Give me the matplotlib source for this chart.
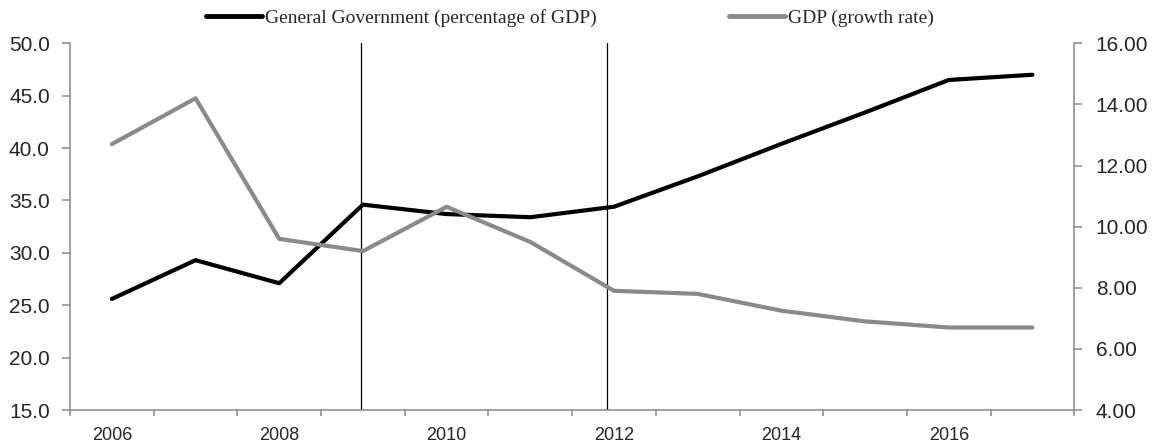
import numpy as np
import matplotlib
matplotlib.use('Agg')
import matplotlib.pyplot as plt
from matplotlib.lines import Line2D

plt.rcParams['font.family'] = ['Liberation Sans', 'DejaVu Sans']

years = [2006, 2007, 2008, 2009, 2010, 2011, 2012, 2013, 2014, 2015, 2016, 2017]
gov_pct_gdp = [25.6, 29.3, 27.1, 34.6, 33.7, 33.4, 34.4, 37.3, 40.4, 43.4, 46.5, 47.0]
gdp_growth = [12.7, 14.2, 9.6, 9.2, 10.65, 9.5, 7.9, 7.8, 7.25, 6.9, 6.7, 6.7]
label_years = [2006, 2008, 2010, 2012, 2014, 2016]
marker_years = [2008.98, 2011.92]  # the two vertical reference lines

spine_col = '#888888'
text_col = '#262626'

fig = plt.figure(figsize=(11.53, 4.47), dpi=100)
ax = fig.add_axes([70 / 1153, 1 - 410 / 447, (1074.3 - 70) / 1153, (410 - 43.3) / 447])
ax2 = ax.twinx()

x = np.arange(len(years))
ax.plot(x, gov_pct_gdp, color='black', lw=3, solid_capstyle='round', zorder=3)
ax2.plot(x, gdp_growth, color='#8a8a8a', lw=3, solid_capstyle='round', zorder=3)

for my in marker_years:
    ax.axvline(my - years[0], color='black', lw=0.9, zorder=2)

ax.set_xlim(-0.5, len(years) - 0.5)
ax.set_ylim(15, 50)
ax2.set_ylim(4, 16)
ax.set_yticks(np.arange(15, 50.1, 5))
ax.set_yticklabels([f'{v:.1f}' for v in np.arange(15, 50.1, 5)])
ax2.set_yticks(np.arange(4, 16.1, 2))
ax2.set_yticklabels([f'{v:.2f}' for v in np.arange(4, 16.1, 2)])

# tick marks sit between categories, labels on every second year
ax.set_xticks(np.arange(-0.5, len(years), 1))
ax.set_xticklabels([])
ax.set_xticks([y - years[0] for y in label_years], minor=True)
ax.set_xticklabels([str(y) for y in label_years], minor=True)
ax.tick_params(axis='x', which='major', length=4, width=1.1, color=spine_col, direction='out')
ax.tick_params(axis='x', which='minor', length=0, pad=12, labelsize=13, labelcolor=text_col)

ax.tick_params(axis='y', length=6, width=1.1, color=spine_col, pad=8.5, labelsize=15, labelcolor=text_col)
ax2.tick_params(axis='y', length=6, width=1.1, color=spine_col, pad=9.5, labelsize=15, labelcolor=text_col)

for a in (ax, ax2):
    a.spines['top'].set_visible(False)
    for s in ('left', 'right', 'bottom'):
        a.spines[s].set_color(spine_col)
        a.spines[s].set_linewidth(1.1)
ax.spines['right'].set_visible(False)
ax2.spines['left'].set_visible(False)
ax2.spines['bottom'].set_visible(False)

handles = [
    Line2D([], [], color='black', lw=3.5, solid_capstyle='round'),
    Line2D([], [], color='#8a8a8a', lw=3.5, solid_capstyle='round'),
]
fig.legend(handles, ['General Government (percentage of GDP)', 'GDP (growth rate)'],
           loc='center', bbox_to_anchor=(570 / 1153, 1 - 18 / 447), ncol=2, frameon=False,
           prop={'family': 'Liberation Serif', 'size': 14}, handlelength=2.9,
           handletextpad=0.15, columnspacing=6.8, borderpad=0, labelcolor=text_col)

fig.savefig('out.png', dpi=100)
